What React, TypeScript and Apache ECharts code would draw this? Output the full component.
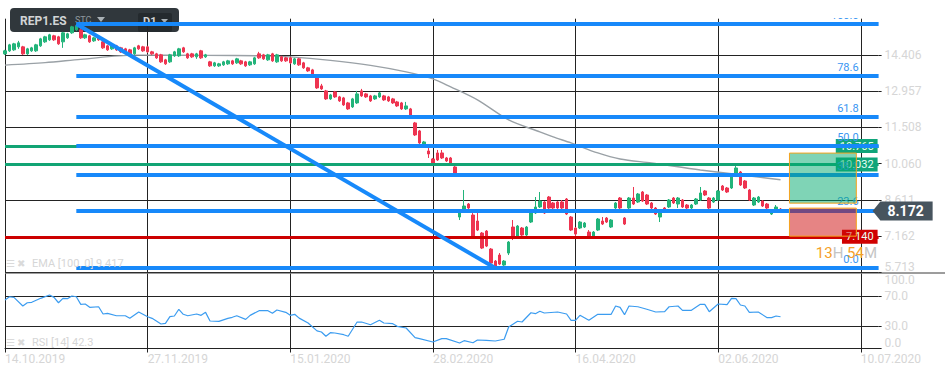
import React, { useEffect, useRef } from "react";
import * as echarts from "echarts";

// ---------- data ----------
const tickLabels = ["14.10.2019", "27.11.2019", "15.01.2020", "28.02.2020", "16.04.2020", "02.06.2020", "10.07.2020"];
const barsPerTick = 32;
const slotCount = 197;
const lastSlot = slotCount - 1;
const categories = Array.from({ length: slotCount }, (_, i) => String(i));

const priceTicks = [5.713, 7.162, 8.611, 10.06, 11.508, 12.957, 14.406];
const priceMin = 5.713;
const priceMax = 15.855;
const rsiTicks = [0, 30, 70];
const rsiLabels = [0, 30, 70, 100];

// [open, close, low, high]
const candles = [
  [14.45, 14.57, 14.41, 14.61], [14.57, 14.81, 14.53, 14.85], [14.61, 14.85, 14.57, 14.89], [14.73, 14.89, 14.65, 14.97],
  [14.73, 14.45, 14.41, 14.77], [14.45, 14.65, 14.41, 14.69], [14.57, 14.69, 14.53, 14.73], [14.57, 14.81, 14.53, 14.85],
  [14.77, 15.05, 14.73, 15.09], [14.93, 15.13, 14.89, 15.17], [15.01, 15.21, 14.97, 15.25], [15.17, 15.01, 14.97, 15.21],
  [15.13, 14.85, 14.81, 15.17], [14.93, 15.29, 14.69, 15.33], [15.09, 15.25, 15.05, 15.29], [15.29, 15.53, 15.25, 15.57],
  [15.41, 15.57, 15.37, 15.645], [15.41, 15.09, 15.05, 15.49], [15.09, 15.21, 15.05, 15.25], [15.17, 14.93, 14.89, 15.21],
  [14.97, 15.09, 14.93, 15.13], [15.13, 15.01, 14.97, 15.17], [14.93, 14.69, 14.65, 14.97], [14.77, 14.61, 14.57, 14.81],
  [14.65, 14.77, 14.61, 14.81], [14.77, 14.61, 14.57, 14.81], [14.69, 14.53, 14.49, 14.73], [14.65, 14.49, 14.45, 14.69],
  [14.61, 14.45, 14.41, 14.65], [14.45, 14.69, 14.41, 14.73], [14.77, 14.65, 14.61, 14.81], [14.73, 14.57, 14.53, 14.77],
  [14.73, 14.53, 14.49, 14.77], [14.53, 14.45, 14.41, 14.57], [14.45, 14.29, 14.25, 14.49], [14.41, 14.13, 14.09, 14.45],
  [14.21, 14.05, 14.01, 14.25], [14.13, 14.41, 14.09, 14.45], [14.37, 14.53, 14.33, 14.57], [14.37, 14.65, 14.33, 14.69],
  [14.69, 14.53, 14.49, 14.73], [14.45, 14.29, 14.25, 14.49], [14.45, 14.33, 14.29, 14.49], [14.33, 14.45, 14.25, 14.49],
  [14.57, 14.29, 14.25, 14.61], [14.33, 14.41, 14.29, 14.45], [14.13, 13.97, 13.93, 14.17], [13.97, 14.09, 13.93, 14.13],
  [13.97, 14.05, 13.93, 14.09], [14.01, 14.13, 13.97, 14.17], [14.05, 14.17, 14.01, 14.21], [14.17, 14.05, 14.01, 14.21],
  [14.09, 14.25, 14.05, 14.29], [14.17, 14.05, 14.01, 14.21], [14.13, 13.97, 13.93, 14.17], [14.01, 14.13, 13.97, 14.17],
  [14.05, 14.29, 14.01, 14.33], [14.45, 14.29, 14.25, 14.53], [14.41, 14.25, 14.21, 14.45], [14.21, 14.41, 14.17, 14.45],
  [14.45, 14.17, 14.13, 14.49], [14.13, 14.41, 14.09, 14.45], [14.33, 14.17, 14.13, 14.37], [14.29, 14.17, 14.13, 14.33],
  [14.29, 14.09, 14.05, 14.33], [14.05, 14.25, 14.01, 14.29], [14.25, 14.01, 13.97, 14.29], [14.09, 13.89, 13.85, 14.13],
  [13.89, 13.77, 13.73, 13.93], [13.81, 13.61, 13.57, 13.85], [13.53, 13.09, 13.05, 13.57], [13.17, 13.05, 13.01, 13.25],
  [12.97, 12.65, 12.61, 13.01], [12.65, 12.81, 12.61, 12.85], [12.93, 12.73, 12.69, 12.97], [12.73, 12.57, 12.53, 12.77],
  [12.69, 12.41, 12.37, 12.73], [12.49, 12.25, 12.21, 12.53], [12.33, 12.65, 12.29, 12.69], [12.49, 12.85, 12.45, 12.97],
  [12.97, 12.77, 12.73, 13.05], [12.85, 12.73, 12.69, 12.89], [12.77, 12.57, 12.53, 12.81], [12.65, 12.77, 12.61, 12.81],
  [12.73, 12.89, 12.69, 12.93], [12.77, 12.61, 12.57, 12.81], [12.73, 12.57, 12.53, 12.77], [12.65, 12.49, 12.45, 12.69],
  [12.53, 12.37, 12.33, 12.57], [12.49, 12.25, 12.21, 12.53], [12.25, 12.37, 12.21, 12.53], [12.25, 11.93, 11.89, 12.29],
  [11.69, 11.21, 11.17, 11.73], [11.37, 10.89, 10.85, 11.41], [10.77, 10.93, 10.73, 10.97], [10.57, 10.45, 10.29, 10.69],
  [10.25, 10.01, 9.97, 10.29], [10.49, 10.21, 10.17, 10.61], [10.49, 10.29, 10.25, 10.61], [10.29, 10.17, 10.13, 10.33],
  [10.29, 10.05, 10.01, 10.33], [9.93, 9.69, 9.65, 9.97], [7.93, 8.13, 7.81, 8.17], [8.25, 8.37, 8.21, 9.01],
  [8.45, 8.29, 8.25, 8.49], [8.01, 7.13, 7.09, 8.09], [7.77, 7.41, 7.37, 8.13], [7.29, 6.69, 6.65, 7.33],
  [7.37, 6.77, 6.73, 7.41], [6.65, 6.09, 6.05, 6.69], [6.17, 5.97, 5.89, 6.21], [6.41, 6.05, 6.01, 6.49],
  [6.01, 6.17, 5.93, 6.21], [6.49, 6.93, 6.41, 6.97], [7.53, 7.09, 7.01, 7.81], [7.13, 7.57, 7.09, 7.61],
  [7.49, 7.21, 7.17, 7.53], [7.21, 7.53, 7.17, 7.57], [7.73, 8.09, 7.69, 8.13], [8.09, 8.33, 8.05, 8.73],
  [8.33, 8.57, 8.29, 8.93], [8.53, 8.09, 8.05, 8.57], [8.73, 8.29, 8.25, 8.77], [8.49, 8.29, 8.25, 8.53],
  [8.53, 8.29, 8.25, 8.57], [8.53, 8.29, 8.25, 8.61], [8.65, 8.05, 8.01, 8.69], [7.93, 7.41, 7.37, 7.97],
  [7.49, 7.25, 7.05, 7.53], [7.49, 7.73, 7.45, 7.77], [7.53, 7.69, 7.49, 7.73], [7.33, 7.17, 7.13, 7.41],
  [7.17, 7.33, 7.13, 7.37], [7.41, 7.85, 7.37, 7.89], [7.77, 7.65, 7.61, 7.93], [7.89, 7.73, 7.69, 7.93],
  [7.53, 7.81, 7.49, 7.85], [8.29, 8.49, 8.25, 8.53], [8.69, 8.29, 8.25, 8.73], [7.89, 7.65, 7.61, 7.93],
  [8.29, 8.69, 8.25, 8.73], [8.69, 8.45, 8.41, 9.13], [8.53, 8.85, 8.49, 8.89], [8.93, 8.57, 8.53, 8.97],
  [8.81, 8.45, 8.41, 8.85], [8.49, 8.29, 8.25, 8.53], [8.29, 8.05, 8.01, 8.33], [7.93, 8.13, 7.73, 8.17],
  [8.29, 8.17, 8.13, 8.33], [8.33, 8.61, 8.29, 8.65], [8.69, 8.49, 8.45, 8.73], [8.45, 8.69, 8.29, 8.73],
  [8.61, 8.33, 8.29, 8.65], [8.41, 8.29, 8.25, 8.45], [8.29, 8.41, 8.25, 8.45], [8.45, 8.65, 8.41, 8.69],
  [8.61, 8.89, 8.57, 9.13], [8.97, 8.81, 8.77, 9.01], [8.69, 8.29, 8.25, 8.73], [8.53, 8.69, 8.49, 8.73],
  [8.61, 8.97, 8.57, 9.01], [9.17, 9.01, 8.97, 9.21], [9.09, 8.93, 8.89, 9.13], [9.09, 9.53, 9.05, 9.57],
  [9.57, 9.89, 9.53, 10.01], [9.73, 9.21, 9.17, 9.77], [9.37, 9.09, 9.05, 9.41], [9.01, 8.61, 8.57, 9.05],
  [8.41, 8.69, 8.37, 8.73], [8.53, 8.73, 8.49, 8.77], [8.57, 8.37, 8.33, 8.61], [8.45, 8.29, 8.25, 8.49],
  [8.05, 8.21, 8.01, 8.25], [8.17, 8.33, 8.13, 8.41], [8.25, 8.172, 8.13, 8.29],
];

// EMA(100) read at bar indices: [barIndex, value]
const ema = [
  [0, 14.0], [9, 14.1], [17, 14.23], [29, 14.4], [45, 14.39], [58, 14.37], [64, 14.33], [73, 14.19],
  [82, 13.99], [90, 13.73], [96, 13.45], [100, 13.13], [106, 12.61], [113, 11.81], [120, 11.33], [123, 11.13],
  [127, 10.89], [133, 10.49], [138, 10.25], [145, 10.09], [156, 9.81], [169, 9.53], [174, 9.417],
];

// RSI(14) read at bar indices: [barIndex, value]
const rsi = [
  [0, 64.7], [1, 69], [2, 68.2], [4, 56.7], [5, 61], [6, 61.6], [8, 66.9], [10, 71.3], [11, 68.2], [12, 61],
  [13, 66.9], [14, 66.4], [15, 70], [16, 69], [17, 58.9], [18, 59.3], [19, 54.9], [21, 55.7], [22, 46], [23, 46.9],
  [25, 43.7], [27, 43.7], [28, 40.2], [30, 48.7], [32, 42.4], [33, 40.2], [35, 32.7], [36, 33.6], [37, 42.4], [38, 43.3],
  [39, 52.3], [40, 45.6], [41, 43.7], [43, 46], [44, 44.2], [45, 48.2], [46, 36.7], [48, 36.2], [50, 40.2], [51, 41.6],
  [52, 43.7], [54, 38.9], [55, 44.2], [57, 50.4], [59, 50.4], [60, 46.9], [61, 51.3], [63, 48.2], [64, 44.2], [65, 45.6],
  [66, 40.5], [68, 34], [70, 23.5], [71, 22], [72, 16.3], [73, 21.1], [74, 20.7], [76, 18.4], [77, 16.3], [79, 35.3],
  [80, 35.3], [82, 31.7], [84, 37.6], [85, 34], [87, 33.1], [88, 29.6], [90, 27.3], [92, 14.4], [93, 13.1], [96, 8.7],
  [98, 13.1], [99, 13.1], [102, 7.3], [103, 10.4], [105, 7.7], [106, 11.3], [108, 10.9], [110, 10], [112, 12.3], [113, 28.7],
  [115, 36.3], [116, 35.3], [118, 47.7], [119, 46.4], [120, 49.6], [121, 47.3], [124, 48.7], [126, 46], [127, 37.6], [128, 37.6],
  [129, 44.2], [131, 37.6], [133, 45.6], [136, 45.6], [137, 56.7], [138, 54.9], [139, 45.1], [140, 56.7], [142, 55.7], [144, 52.3],
  [146, 48.7], [148, 49.1], [149, 55.7], [151, 56.7], [152, 50.9], [154, 50.9], [156, 58.9], [157, 58.9], [158, 49.1], [160, 59.3],
  [162, 58.4], [163, 66.9], [164, 66.4], [165, 58], [166, 56.7], [167, 48.2], [169, 48.7], [171, 41.1], [172, 41.1], [173, 43.3],
  [174, 42.3],
];

const fibLevels = [0, 23.6, 38.2, 50, 61.8, 78.6, 100];
const fibHigh = { index: 16, price: 15.645 };
const fibLow = { index: 110, price: 5.89 };
const takeProfits = [10.765, 10.032];
const stopLoss = 7.14;
const lastPrice = 8.172;
const emaLast = 9.417;
const rsiLast = 42.3;
const profitBox = { from: 176, to: 191, top: 10.485, bottom: 8.485 };
const lossBox = { from: 176, to: 191, top: 8.285, bottom: 7.165 };

// ---------- styles ----------
const FONT = "Roboto, sans-serif";
const GRID = "#232323";
const LABEL = "#d6d6d6";
const UP = "#22b47a";
const DOWN = "#ee3450";
const FIB = "#1789fa";

const fibPrice = (lvl: number) => fibLow.price + ((fibHigh.price - fibLow.price) * lvl) / 100;
const isTick = (i: number) => i % barsPerTick === 0;

function buildOption() {
  const levelLabel = (bg: string) => ({
    show: true,
    position: "insideEnd",
    distance: 1,
    formatter: "{b}",
    color: "#eafff5",
    backgroundColor: bg,
    fontSize: 11,
    lineHeight: 12,
    padding: [1, 4, 1, 4],
    fontFamily: FONT,
  });

  return {
    animation: false,
    backgroundColor: "#ffffff",
    grid: [
      { left: 5, right: 66.4, top: 18.7, height: 253.8 },
      { left: 5, right: 66.4, top: 273.5, height: 75 },
    ],
    xAxis: [
      {
        type: "category",
        gridIndex: 0,
        data: categories,
        boundaryGap: false,
        axisLine: { show: false },
        axisTick: { show: false },
        axisLabel: { show: false },
        splitLine: { show: true, interval: (i: number) => isTick(i), lineStyle: { color: GRID, width: 1 } },
      },
      {
        type: "category",
        gridIndex: 1,
        data: categories,
        boundaryGap: false,
        axisLine: { show: true, lineStyle: { color: GRID, width: 1 } },
        axisTick: { show: true, interval: (i: number) => isTick(i), length: 4, lineStyle: { color: GRID } },
        axisLabel: {
          show: true,
          interval: (i: number) => isTick(i),
          formatter: (v: string) => {
            const i = Number(v);
            return isTick(i) ? tickLabels[i / barsPerTick] ?? "" : "";
          },
          align: "left",
          color: LABEL,
          fontSize: 12,
          margin: 4,
          fontFamily: FONT,
        },
        splitLine: { show: true, interval: (i: number) => isTick(i), lineStyle: { color: GRID, width: 1 } },
      },
    ],
    yAxis: [
      {
        type: "value",
        gridIndex: 0,
        position: "right",
        min: priceMin,
        max: priceMax,
        axisLine: { show: false },
        axisTick: { show: true, customValues: priceTicks, length: 3, lineStyle: { color: GRID } },
        axisLabel: {
          show: true,
          customValues: priceTicks,
          formatter: (v: number) => v.toFixed(3),
          color: LABEL,
          fontSize: 12,
          margin: 6,
          fontFamily: FONT,
          verticalAlignMinLabel: "bottom",
        },
        splitLine: { show: true, customValues: priceTicks, lineStyle: { color: GRID, width: 1 } },
      },
      {
        type: "value",
        gridIndex: 1,
        position: "right",
        min: 0,
        max: 100,
        axisLine: { show: false },
        axisTick: { show: true, customValues: rsiTicks, length: 3, lineStyle: { color: GRID } },
        axisLabel: {
          show: true,
          customValues: rsiLabels,
          formatter: (v: number) => v.toFixed(1),
          color: LABEL,
          fontSize: 12,
          margin: 6,
          fontFamily: FONT,
          verticalAlignMinLabel: "bottom",
          verticalAlignMaxLabel: "top",
        },
        splitLine: { show: true, customValues: rsiTicks, lineStyle: { color: GRID, width: 1 } },
      },
    ],
    series: [
      {
        name: "EMA",
        type: "line",
        xAxisIndex: 0,
        yAxisIndex: 0,
        data: ema,
        showSymbol: false,
        smooth: 0.3,
        z: 2,
        silent: true,
        lineStyle: { color: "#9aa1a6", width: 1.4 },
      },
      {
        name: "REP1.ES",
        type: "candlestick",
        xAxisIndex: 0,
        yAxisIndex: 0,
        data: candles,
        barWidth: 3,
        clip: false,
        z: 3,
        silent: true,
        itemStyle: { color: UP, color0: DOWN, borderColor: UP, borderColor0: DOWN, borderWidth: 1 },
        markPoint: {
          z: 9,
          silent: true,
          symbol: "path://M0 10L8 0L62 0L62 20L8 20Z",
          symbolSize: [60, 19],
          symbolKeepAspect: false,
          symbolOffset: [24, 0],
          itemStyle: { color: "#47545e" },
          label: {
            show: true,
            position: "inside",
            formatter: () => lastPrice.toFixed(3),
            color: "#ffffff",
            fontSize: 14,
            fontWeight: "bold",
            fontFamily: FONT,
            offset: [3, 0],
          },
          data: [{ coord: [lastSlot, lastPrice], value: lastPrice }],
        },
      },
      {
        name: "levels",
        type: "line",
        xAxisIndex: 0,
        yAxisIndex: 0,
        data: [],
        z: 4,
        markLine: {
          z: 4,
          silent: true,
          symbol: ["none", "none"],
          emphasis: { disabled: true },
          data: [
            ...takeProfits.map((v) => [
              { name: v.toFixed(3), coord: [0, v], lineStyle: { color: "#12a474", width: 3, type: "solid" }, label: levelLabel("#10a57a") },
              { coord: [lastSlot, v] },
            ]),
            [
              { name: stopLoss.toFixed(3), coord: [0, stopLoss], lineStyle: { color: "#cc0000", width: 3, type: "solid" }, label: levelLabel("#d00000") },
              { coord: [lastSlot, stopLoss] },
            ],
          ],
        },
      },
      {
        name: "fib",
        type: "line",
        xAxisIndex: 0,
        yAxisIndex: 0,
        data: [],
        z: 5,
        markLine: {
          z: 6,
          silent: true,
          symbol: ["none", "none"],
          emphasis: { disabled: true },
          lineStyle: { color: FIB, width: 4, type: "solid", opacity: 1 },
          label: {
            show: true,
            position: "insideEndTop",
            formatter: "{b}",
            distance: [20, 3],
            color: "#3a96f2",
            fontSize: 11,
            fontFamily: FONT,
          },
          data: [
            ...fibLevels.map((l) => [
              { name: l.toFixed(1), coord: [fibHigh.index, fibPrice(l)] },
              { coord: [lastSlot, fibPrice(l)] },
            ]),
            [
              { name: "", coord: [fibHigh.index, fibHigh.price], label: { show: false } },
              { coord: [fibLow.index, fibLow.price] },
            ],
          ],
        },
      },
      {
        name: "position",
        type: "line",
        xAxisIndex: 0,
        yAxisIndex: 0,
        data: [],
        z: 7,
        markArea: {
          z: 7,
          silent: true,
          emphasis: { disabled: true },
          data: [
            [
              { coord: [profitBox.from, profitBox.top], itemStyle: { color: "rgba(0,170,110,0.5)", borderColor: "#f5a21c", borderWidth: 1 } },
              { coord: [profitBox.to, profitBox.bottom] },
            ],
            [
              { coord: [lossBox.from, lossBox.top], itemStyle: { color: "rgba(205,10,10,0.5)", borderColor: "#f5a21c", borderWidth: 1 } },
              { coord: [lossBox.to, lossBox.bottom] },
            ],
          ],
        },
      },
      {
        name: "RSI",
        type: "line",
        xAxisIndex: 1,
        yAxisIndex: 1,
        data: rsi,
        showSymbol: false,
        silent: true,
        z: 3,
        lineStyle: { color: "#3b9cf0", width: 1.2 },
      },
    ],
    graphic: [
      // header
      { type: "rect", z: 0, shape: { x: 10, y: 8, width: 169, height: 24, r: 4 }, style: { fill: "#30373c" } },
      { type: "text", z: 1, x: 20, y: 21, style: { text: "REP1.ES", fill: "#d2d4d6", font: `bold 12px ${FONT}`, verticalAlign: "middle" } },
      { type: "text", z: 1, x: 75, y: 20, style: { text: "STC", fill: "#8e979d", font: `9px ${FONT}`, verticalAlign: "middle" } },
      { type: "polygon", z: 1, shape: { points: [[97, 17], [105, 17], [101, 22]] }, style: { fill: "#a9b1b6" } },
      { type: "rect", z: 0, shape: { x: 138, y: 13, width: 34, height: 19, r: 2 }, style: { fill: "#242a2e" } },
      { type: "text", z: 1, x: 143, y: 21, style: { text: "D1", fill: "#d2d4d6", font: `bold 11px ${FONT}`, verticalAlign: "middle" } },
      { type: "polygon", z: 1, shape: { points: [[161, 19], [168, 19], [164.5, 23]] }, style: { fill: "#a9b1b6" } },
      // pane separator
      { type: "line", z: 1, shape: { x1: 5, y1: 273, x2: 945, y2: 273 }, style: { stroke: "#3a3a3a", lineWidth: 1 } },
      // indicator captions
      { type: "text", z: 10, x: 6, y: 263, style: { text: "☰ ✖", fill: "#dadada", font: `10px ${FONT}`, verticalAlign: "middle" } },
      { type: "text", z: 10, x: 32, y: 263, style: { text: `EMA [100, 0] ${emaLast.toFixed(3)}`, fill: "#d6d6d6", font: `11px ${FONT}`, verticalAlign: "middle" } },
      { type: "text", z: 10, x: 6, y: 342, style: { text: "☰ ✖", fill: "#dadada", font: `10px ${FONT}`, verticalAlign: "middle" } },
      { type: "text", z: 10, x: 32, y: 342, style: { text: `RSI [14] ${rsiLast.toFixed(1)}`, fill: "#d6d6d6", font: `11px ${FONT}`, verticalAlign: "middle" } },
      // countdown
      {
        type: "text",
        z: 10,
        x: 877,
        y: 253,
        style: {
          text: "{o|13}{g|H} {o|54}{g|M}",
          align: "right",
          verticalAlign: "middle",
          font: `15px ${FONT}`,
          rich: {
            o: { fill: "#f5a02a", fontSize: 15, fontFamily: FONT },
            g: { fill: "#c4c4c4", fontSize: 15, fontFamily: FONT },
          },
        },
      },
      // clip area above plot at right
      { type: "rect", z: 100, shape: { x: 780, y: 0, width: 165, height: 18 }, style: { fill: "#ffffff" } },
    ],
  };
}

export default function App() {
  const ref = useRef<HTMLDivElement>(null);
  useEffect(() => {
    if (!ref.current) return;
    const chart = echarts.init(ref.current, undefined, { renderer: "svg" });
    chart.setOption(buildOption() as any);
    return () => chart.dispose();
  }, []);
  return (
    <div
      ref={ref}
      style={{ position: "fixed", left: 0, top: 0, width: 945, height: 376, background: "#ffffff" }}
    />
  );
}
